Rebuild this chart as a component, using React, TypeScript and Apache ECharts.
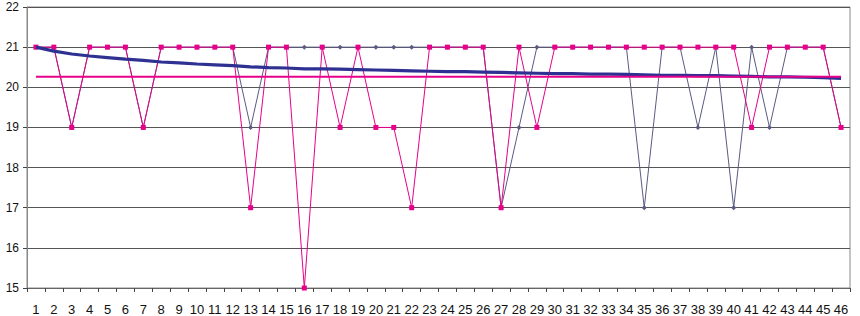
import React, { useEffect, useRef } from "react";
import * as echarts from "echarts";

const categories = Array.from({ length: 46 }, (_, i) => String(i + 1));

const graySeries = [
  21, 21, 19, 21, 21, 21, 19, 21, 21, 21, 21, 21, 19, 21, 21, 21, 21, 21, 21, 21, 21, 21, 21,
  21, 21, 21, 17, 19, 21, 21, 21, 21, 21, 21, 17, 21, 21, 19, 21, 17, 21, 19, 21, 21, 21, 19,
];

const magentaSeries = [
  21, 21, 19, 21, 21, 21, 19, 21, 21, 21, 21, 21, 17, 21, 21, 15, 21, 19, 21, 19, 19, 17, 21,
  21, 21, 21, 17, 21, 19, 21, 21, 21, 21, 21, 21, 21, 21, 21, 21, 21, 19, 21, 21, 21, 21, 19,
];

const navyTrend = [
  21.0, 20.9, 20.83, 20.78, 20.74, 20.7, 20.67, 20.63, 20.61, 20.58, 20.56, 20.54, 20.51, 20.49,
  20.48, 20.46, 20.46, 20.45, 20.44, 20.43, 20.42, 20.41, 20.4, 20.39, 20.39, 20.38, 20.37, 20.36,
  20.35, 20.34, 20.34, 20.33, 20.33, 20.32, 20.31, 20.3, 20.3, 20.29, 20.29, 20.28, 20.27, 20.26,
  20.26, 20.25, 20.24, 20.22,
];

const magentaMean = categories.map(() => 20.26);

const yTicks = { min: 15, max: 22, interval: 1 };

export default function App() {
  const ref = useRef<HTMLDivElement>(null);
  useEffect(() => {
    if (!ref.current) return;
    const chart = echarts.init(ref.current, null, { renderer: "svg" });
    const font = "Liberation Sans Narrow, Arial Narrow, Liberation Sans, Arial, sans-serif";
    chart.setOption({
      animation: false,
      backgroundColor: "#ffffff",
      grid: {
        left: 27,
        right: 10,
        top: 7,
        bottom: 28,
        show: true,
        borderColor: "#888888",
        borderWidth: 1,
      },
      xAxis: {
        type: "category",
        data: categories,
        boundaryGap: true,
        axisLine: { lineStyle: { color: "#666666", width: 1 } },
        axisTick: { show: true, length: 4, lineStyle: { color: "#444444" } },
        axisLabel: { color: "#111111", fontSize: 13, fontFamily: font, margin: 15, interval: 0 },
        splitLine: { show: false },
      },
      yAxis: {
        type: "value",
        min: yTicks.min,
        max: yTicks.max,
        interval: yTicks.interval,
        axisLine: { show: true, lineStyle: { color: "#888888", width: 1 } },
        axisTick: { show: true, length: 4, lineStyle: { color: "#444444" } },
        axisLabel: { color: "#111111", fontSize: 12, fontFamily: font, margin: 8 },
        splitLine: { show: true, lineStyle: { color: "#555555", width: 1 } },
      },
      series: [
        {
          type: "line",
          data: graySeries,
          symbol: "diamond",
          symbolSize: 5,
          lineStyle: { color: "#5a5a82", width: 1 },
          itemStyle: { color: "#5a5a82" },
          z: 2,
        },
        {
          type: "line",
          data: magentaSeries,
          symbol: "rect",
          symbolSize: 5,
          lineStyle: { color: "#e6008a", width: 1 },
          itemStyle: { color: "#e6008a" },
          z: 3,
        },
        {
          type: "line",
          data: navyTrend,
          symbol: "none",
          lineStyle: { color: "#2e3192", width: 3.2 },
          z: 4,
        },
        {
          type: "line",
          data: magentaMean,
          symbol: "none",
          lineStyle: { color: "#e6008a", width: 2 },
          z: 5,
        },
      ],
    });
    return () => chart.dispose();
  }, []);
  return (
    <div
      ref={ref}
      style={{ position: "fixed", left: 0, top: 0, width: 860, height: 316, background: "#fff" }}
    />
  );
}
